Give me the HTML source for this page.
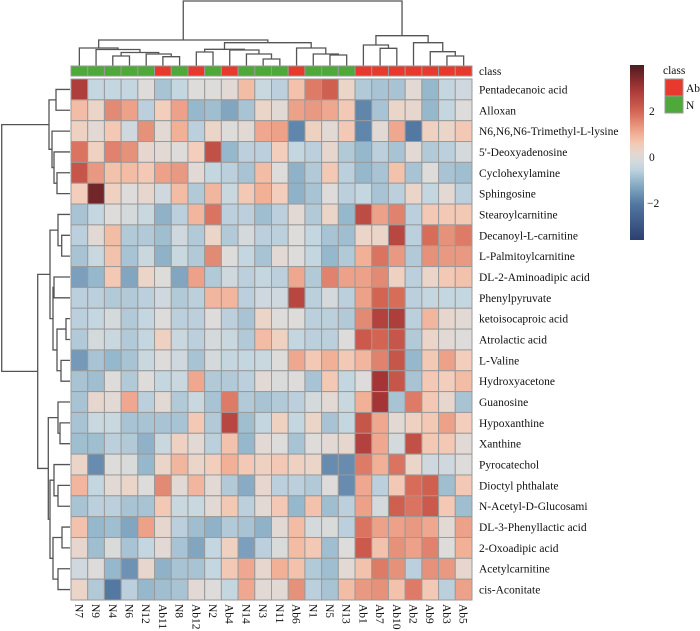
<!DOCTYPE html>
<html><head><meta charset="utf-8"><style>
html,body{margin:0;padding:0;background:#fff;}
svg{display:block;font-family:"Liberation Serif",serif;}
</style></head><body>
<svg id="chart" width="700" height="631" viewBox="0 0 700 631">
<g id="dendro-top" stroke="#555" stroke-width="1.3" fill="none"></g>
<g id="dendro-left" stroke="#555" stroke-width="1.3" fill="none"></g>
<g id="classbar"></g>
<g id="cells"></g>
<g id="rowlabels" font-size="11.5" fill="#111"></g>
<g id="collabels" font-size="11.5" fill="#111"></g>
<g id="legend"></g>
</svg>
<script>
const columns = ["N7","N9","N4","N6","N12","Ab11","N8","Ab12","N2","Ab4","N14","N3","N11","Ab6","N1","N5","N13","Ab1","Ab7","Ab10","Ab2","Ab9","Ab3","Ab5"];
const classes = ["N","N","N","N","N","Ab","N","Ab","N","Ab","N","N","N","Ab","N","N","N","Ab","Ab","Ab","Ab","Ab","Ab","Ab"];
const rows = ["Pentadecanoic acid","Alloxan","N6,N6,N6-Trimethyl-L-lysine","5'-Deoxyadenosine","Cyclohexylamine","Sphingosine","Stearoylcarnitine","Decanoyl-L-carnitine","L-Palmitoylcarnitine","DL-2-Aminoadipic acid","Phenylpyruvate","ketoisocaproic acid","Atrolactic acid","L-Valine","Hydroxyacetone","Guanosine","Hypoxanthine","Xanthine","Pyrocatechol","Dioctyl phthalate","N-Acetyl-D-Glucosami","DL-3-Phenyllactic acid","2-Oxoadipic acid","Acetylcarnitine","cis-Aconitate"];
const values = [
[2.8,-0.5,-0.5,-0.5,0,-0.8,-0.5,0,0,0.1,0.8,-0.4, -0.6,0.7,1.7,2.1,0.3,-0.7,-0.8,-0.8,0.1,-1.0,-0.5,-0.3],
[0.8,0.3,1.5,1.2,-0.6,0.5,1.2,-1.0,-0.9,-1.3,-0.8,0.3, 0.1,1.2,1.3,1.1,0.6,-1.8,-0.8,0.3,0.2,-1.0,-0.5,0],
[0.4,0.1,0.6,-0.3,1.4,0.1,1.0,-0.6,0.3,0,0.1,1.1, 1.2,-1.8,0.4,0.1,0.6,-1.8,0.1,1.1,-2.0,0.4,0.3,0.6],
[1.8,0.4,1.6,1.4,0.2,0.1,0,0.5,2.4,-1.0,-0.6,-0.6, 0.5,-0.5,-0.6,0.2,-0.7,-1.0,-0.6,-0.8,0.1,-0.7,-0.6,-0.2],
[2.3,1.3,0.7,0.8,0.6,1.2,1.3,0.1,-0.5,-0.6,-0.8,0.8, 0,-1.1,-0.7,0.6,-0.6,-1.0,-0.8,0.7,-0.8,0,-0.8,-0.9],
[0.5,3.6,0.4,0,0.2,-0.3,0.8,-0.7,0.9,-0.4,0.6,1.0, 0.5,-1.1,-0.8,0,-0.6,-0.5,-0.8,-0.6,0.3,-0.5,0.1,-0.6],
[-0.8,-0.5,0,-0.2,-0.4,-1.1,-0.6,0.9,1.8,-0.6,-0.6,-0.9, -0.6,0.1,-0.7,0.3,-1.0,2.5,1.2,1.6,-0.6,0.6,0.6,0.6],
[-0.6,0.1,0.8,-0.7,-0.7,-0.9,-0.3,-0.7,0.3,-0.7,-0.2,-0.6, -0.6,0,-0.5,-0.8,-0.9,0.3,0.3,2.6,-0.6,1.9,1.4,1.7],
[-0.8,-0.4,0.7,-0.8,-0.4,-1.1,-0.4,-0.7,1.5,0,-0.5,-0.8, 0.1,0,-0.5,-1.0,-0.7,1.0,1.8,1.3,-0.7,1.4,1.3,1.3],
[-1.4,-1.0,0.6,-1.3,0.3,0,-1.3,1.2,-0.7,-0.3,-0.6,-0.5, -0.6,1.1,-0.7,1.6,1.2,1.2,1.5,0.4,-0.6,0.3,0.6,0.7],
[-0.6,-0.6,-0.7,-0.7,-0.6,-0.3,-0.7,-0.6,0.9,0.9,-0.6,-0.3, -0.3,2.6,-0.6,-0.2,-0.6,1.2,2.0,1.9,-0.6,-0.5,-0.5,-0.5],
[-0.6,-0.5,-0.2,-0.7,-0.5,0,-0.6,-0.6,0,-0.6,-0.8,0.3, 0,0,-0.6,-0.6,-0.7,1.5,2.7,2.8,-0.6,0.9,0.2,0.1],
[-0.7,-0.2,-0.4,-0.7,-0.5,0.4,-0.4,-0.6,-0.2,-0.4,-0.7,0.8, 0.4,-0.5,-0.6,-0.6,0,2.2,2.0,2.3,-0.7,0.3,0.1,0],
[-1.5,-0.8,-1.0,-0.8,-0.4,0,-0.3,-0.8,-0.2,-0.5,-0.5,-0.4, 0,1.1,0.6,1.0,0.6,0.9,1.6,2.3,-1.0,0.6,1.2,0.5],
[-0.8,-0.9,0,-0.7,0,-0.5,-0.4,1.1,-0.7,-0.7,-0.6,0.1, -0.1,0,-0.8,0.6,-0.5,0,3.0,2.3,-0.8,0.6,0.5,0.8],
[-0.8,0.2,0.1,1.1,-0.6,0.1,-0.7,-0.4,-0.8,1.7,-0.7,-0.8, -0.7,-0.6,-0.2,0.1,-0.4,1.0,3.0,-0.8,1.7,0.6,0.2,-0.8],
[-0.8,-0.4,-0.4,-0.8,-0.8,-0.8,-0.8,0.6,-0.7,2.6,-0.9,-0.5, 0.4,-0.5,0.3,-0.8,-0.5,2.3,1.1,0.1,0.4,0.6,1.2,0.5],
[-0.9,-0.9,-0.6,-0.7,-1.1,-0.4,0.4,0.1,-0.6,0.7,-1.0,0.1, 0,-0.8,0,0.1,0.2,2.7,1.1,-0.2,2.4,0.6,0.6,0.1],
[0.3,-1.7,0,-0.1,-1.0,0.3,0.9,0.3,0.5,1.0,0.6,0.4, 0.6,0.4,0.3,-1.7,-1.7,1.7,1.0,1.8,0.3,-0.3,-0.3,0],
[0.9,-0.5,0.1,0.3,0,1.5,0.1,0.9,0.1,-0.7,-1.2,0.2, -0.6,-0.6,-0.7,0,-1.7,1.1,-0.6,0.6,1.9,2.1,-0.9,0.6],
[-0.8,-0.6,-0.6,-0.8,-0.8,0.6,-0.4,-0.4,0.1,0.6,-0.6,0.1, 0.6,-1.0,0.7,-0.9,-0.6,1.2,-0.2,2.1,1.8,2.2,0.6,-0.9],
[0.7,-1.0,-0.9,-1.3,1.2,0.2,-0.6,-0.9,-1.1,-0.7,-0.8,-1.1, 0.1,0.8,-0.2,-0.1,-0.6,1.8,1.2,1.2,1.3,1.1,0.1,1.2],
[0.2,-0.9,-0.1,-0.8,-0.5,0.1,-0.8,-1.3,-0.5,0.4,-1.4,-0.6, -0.1,0.8,0.6,-0.9,0,2.2,0.7,1.4,1.2,1.6,0,1.0],
[-0.3,0,-1.0,-1.6,0.2,-1.1,-0.8,-0.8,-0.5,0.6,1.1,0.2, 1.0,0.7,-0.7,-0.9,0.1,0.7,1.7,1.4,-0.6,1.4,1.3,0.2],
[0.3,-0.7,-2.0,-0.6,-1.0,-0.9,-0.8,0.1,0,-0.5,1.1,0.1, 0.1,1.4,-0.6,-0.8,0.8,1.3,1.4,0.7,1.7,0.6,-0.6,1.2]
];
const colorTicks = [2,0,-2];
const classNames = ["Ab","N"];

const NS="http://www.w3.org/2000/svg";
const X0=71, X1=472, Y0=79, Y1=600;
const cw=(X1-X0)/columns.length, rh=(Y1-Y0)/rows.length;
const colX=i=>X0+cw*i, rowY=j=>Y0+rh*j;
const classColor={Ab:"#e8392f",N:"#4fa83a"};
const stops=[[-3.6,[45,63,110]],[-2,[83,121,163]],[-1,[150,184,204]],[-0.5,[196,214,224]],[0,[222,220,218]],[0.5,[243,206,188]],[1,[242,176,150]],[2,[212,100,82]],[3,[165,52,54]],[4,[78,28,32]]];
function col(v){
  if(v<=stops[0][0]) return "rgb("+stops[0][1]+")";
  for(let k=1;k<stops.length;k++){
    if(v<=stops[k][0]){const a=stops[k-1],b=stops[k];const t=(v-a[0])/(b[0]-a[0]);
      return "rgb("+a[1].map((c,i)=>Math.round(c+(b[1][i]-c)*t)).join(",")+")";}
  }
  return "rgb("+stops[stops.length-1][1]+")";
}
function el(tag,attrs,parent){const e=document.createElementNS(NS,tag);for(const k in attrs)e.setAttribute(k,attrs[k]);parent.appendChild(e);return e;}

const gC=document.getElementById("cells");
values.forEach((r,j)=>r.forEach((v,i)=>{
  const c=el("rect",{x:colX(i),y:rowY(j),width:cw,height:rh,fill:col(v),stroke:"#9a9a9a","stroke-width":1},gC);
  
  
}));
const gB=document.getElementById("classbar");
classes.forEach((k,i)=>{
  const c=el("rect",{x:colX(i),y:66,width:cw,height:10,fill:classColor[k],stroke:"#9a9a9a","stroke-width":1},gB);
  
  
});
const cl=el("text",{x:479,y:75},document.getElementById("rowlabels"));cl.textContent="class";


const gR=document.getElementById("rowlabels");
rows.forEach((n,j)=>{
  const t=el("text",{x:479,y:rowY(j)+rh/2+4},gR);t.textContent=n;
  
  
});
const gL=document.getElementById("collabels");
columns.forEach((n,i)=>{
  const x=colX(i)+cw/2-4, y=604;
  const t=el("text",{x:x,y:y,transform:"rotate(90 "+x+" "+y+")"},gL);t.textContent=n;
  
  
});

// dendrograms: tree as nested arrays [left,right,height]
function drawTree(node,g,leafPos,horiz){
  if(typeof node==="number") return {p:leafPos(node),h:null};
  const a=drawTree(node[0],g,leafPos,horiz), b=drawTree(node[1],g,leafPos,horiz), h=node[2];
  const leafEnd = horiz?70:66;
  const ha=a.h===null?leafEnd:a.h, hb=b.h===null?leafEnd:b.h;
  let d;
  if(!horiz) d="M"+a.p+","+ha+"V"+h+"H"+b.p+"V"+hb;
  else d="M"+ha+","+a.p+"H"+h+"V"+b.p+"H"+hb;
  el("path",{d:d},g);
  return {p:(a.p+b.p)/2,h:h};
}
const colTree=[[[0,[1,[[2,3,56],[4,[5,6,56.7],54],52.5],49.5],48],[[[7,8,52],[9,[10,[11,12,59],54],50],49.3],[13,[14,[15,16,55],54],48],42.7],40],[[17,[18,19,48.3],45],[20,[21,[22,23,56],51.7],42.7],35.7],1];
drawTree(colTree,document.getElementById("dendro-top"),i=>colX(i)+cw/2,false);
const rowTree=[[[0,1,56],[2,[3,[4,5,57],54],52],49],[[[6,[7,8,61.7],58],[[9,10,54],[[11,12,66],[13,14,61],57],53],50],[[15,[16,17,60],58],[[18,[19,20,58],54],[[21,22,62],[23,24,58],53],50],48.3],37.7],1.7];
drawTree(rowTree,document.getElementById("dendro-left"),j=>rowY(j)+rh/2,true);

// legend
const gLg=document.getElementById("legend");
const defs=el("defs",{},gLg);
const lg=el("linearGradient",{id:"cbar",x1:0,y1:1,x2:0,y2:0},defs);
const cbTop=65, cbBot=240, vTop=4.0, vBot=-3.6;
for(let k=0;k<=20;k++){const v=vBot+(vTop-vBot)*k/20;el("stop",{offset:(k/20),"stop-color":col(v)},lg);}
const cb=el("rect",{x:630,y:cbTop,width:14,height:cbBot-cbTop,fill:"url(#cbar)"},gLg);


const vy=v=>cbTop+(vTop-v)/(vTop-vBot)*(cbBot-cbTop);
colorTicks.forEach(v=>{
  const t=el("text",{x:v<0?647:649,y:vy(v)+4,"font-size":"11.5",fill:"#111"},gLg);
  t.textContent=v<0?"\u2212"+Math.abs(v):String(v);
  
  
});
const lt=el("text",{x:663,y:74,"font-size":"11.5",fill:"#111"},gLg);lt.textContent="class";


classNames.forEach((k,i)=>{
  const r=el("rect",{x:665,y:79+i*17,width:18,height:17,fill:classColor[k],stroke:"#9a9a9a","stroke-width":1},gLg);
  
  
  const t=el("text",{x:686,y:92+i*17,"font-size":"11.5",fill:"#111"},gLg);t.textContent=k;
  
  
});
</script>
</body></html>
